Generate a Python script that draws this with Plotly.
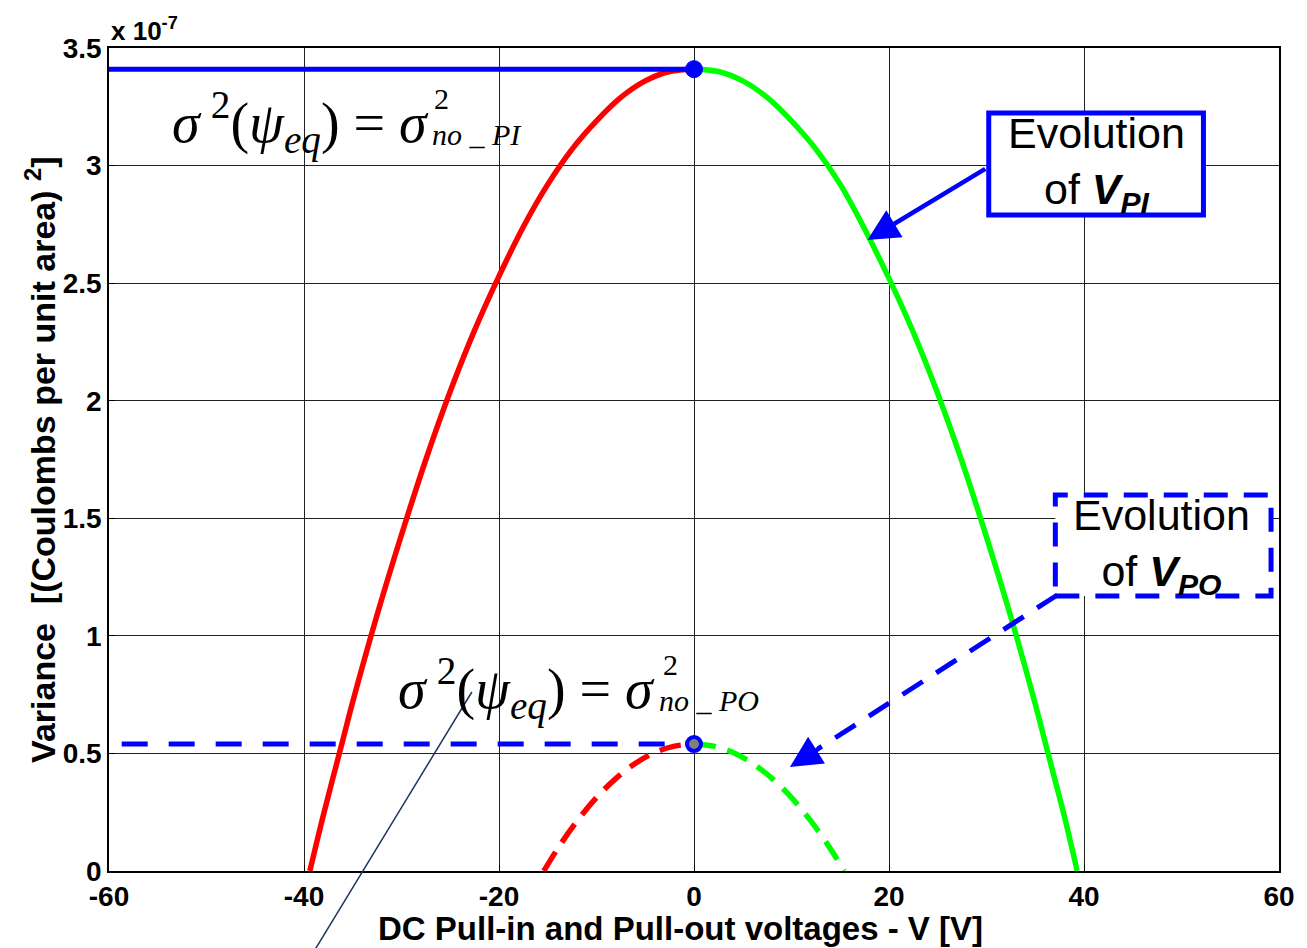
import plotly.graph_objects as go

# Variance values are expressed in units of 1e-7 (Coulombs per unit area)^2
V_PI_LEFT = [-39.4, -38, -36, -35, -32.5, -30, -27.5, -25, -22.5, -20, -17.5, -15,
             -12.5, -10, -7.5, -5, -2.5, 0]
VAR_PI_LEFT = [0, 0.24, 0.56, 0.72, 1.09, 1.43, 1.75, 2.04, 2.30, 2.53, 2.74, 2.92,
               3.07, 3.19, 3.29, 3.36, 3.40, 3.41]
V_PI_RIGHT = [0, 2.5, 5, 7.5, 10, 12.5, 15, 17.5, 20, 22.5, 25, 27.5, 30, 32.5,
              35, 36, 38, 39.3]
VAR_PI_RIGHT = [3.41, 3.40, 3.36, 3.29, 3.19, 3.07, 2.92, 2.73, 2.52, 2.29, 2.03,
                1.74, 1.42, 1.08, 0.71, 0.55, 0.23, 0]

V_PO_LEFT = [-15.4, -14, -12, -10, -8, -6, -4, -2, 0]
VAR_PO_LEFT = [0, 0.094, 0.212, 0.312, 0.394, 0.458, 0.504, 0.531, 0.54]
V_PO_RIGHT = [0, 2, 4, 6, 8, 10, 12, 14, 15.4]
VAR_PO_RIGHT = [0.54, 0.531, 0.504, 0.458, 0.394, 0.312, 0.212, 0.094, 0]

PI_PEAK = (0, 3.41)
PO_PEAK = (0, 0.54)
PO_LINE_START = -58.7

X_TICKS = [-60, -40, -20, 0, 20, 40, 60]
X_TICK_TEXT = ["-60", "-40", "-20", "0", "20", "40", "60"]
Y_TICKS = [0, 0.5, 1, 1.5, 2, 2.5, 3, 3.5]
Y_TICK_TEXT = ["0", "0.5", "1", "1.5", "2", "2.5", "3", "3.5"]

# plot-area geometry (pixels) used to place the call-out decorations
L, R, T, B = 109, 1286, 48, 871
W, H = 1307, 948


def dx(px):
    return -60 + (px - L) / (R - L) * 120


def dy(py):
    return (B - py) / (B - T) * 3.5


def px_paper(px):
    return (px - L) / (R - L)


def py_paper(py):
    return (B - py) / (B - T)


RED, GREEN, BLUE = "#ff0000", "#00ff00", "#0000ff"
SANS = "Liberation Sans, Arial, sans-serif"
SERIF = "Liberation Serif, Times New Roman, serif"

fig = go.Figure()

curve = dict(mode="lines", line_shape="spline", hoverinfo="skip", showlegend=False)
fig.add_trace(go.Scatter(x=V_PI_LEFT, y=VAR_PI_LEFT, line=dict(color=RED, width=5.5), **curve))
fig.add_trace(go.Scatter(x=V_PI_RIGHT, y=VAR_PI_RIGHT, line=dict(color=GREEN, width=5.5), **curve))
fig.add_trace(go.Scatter(x=V_PO_LEFT, y=VAR_PO_LEFT,
                         line=dict(color=RED, width=5.5, dash="22px,12px"), **curve))
fig.add_trace(go.Scatter(x=V_PO_RIGHT, y=VAR_PO_RIGHT,
                         line=dict(color=GREEN, width=5.5, dash="22px,12px"), **curve))

# reference levels at the peaks
fig.add_trace(go.Scatter(x=[-60, PI_PEAK[0]], y=[PI_PEAK[1], PI_PEAK[1]], mode="lines",
                         line=dict(color=BLUE, width=5), hoverinfo="skip", showlegend=False))
fig.add_trace(go.Scatter(x=[PO_LINE_START, PO_PEAK[0]], y=[PO_PEAK[1], PO_PEAK[1]], mode="lines",
                         line=dict(color=BLUE, width=5, dash="26px,21px"),
                         hoverinfo="skip", showlegend=False))

# peak markers
fig.add_trace(go.Scatter(x=[PI_PEAK[0]], y=[PI_PEAK[1]], mode="markers",
                         marker=dict(color=BLUE, size=17, line=dict(color=BLUE, width=1)),
                         hoverinfo="skip", showlegend=False))
fig.add_trace(go.Scatter(x=[PO_PEAK[0]], y=[PO_PEAK[1]], mode="markers",
                         marker=dict(color="#808080", size=14, line=dict(color=BLUE, width=4)),
                         hoverinfo="skip", showlegend=False))

shapes = [
    # solid call-out box for V_PI
    dict(type="rect", xref="x", yref="y", x0=dx(994), x1=dx(1210), y0=dy(215), y1=dy(113),
         line=dict(color=BLUE, width=5), fillcolor="white", layer="above"),
    # dashed call-out box for V_PO
    dict(type="rect", xref="x", yref="y", x0=dx(1061), x1=dx(1278), y0=dy(596), y1=dy(495),
         line=dict(color=BLUE, width=5, dash="24px,16px"), fillcolor="white", layer="above"),
    # dashed pointer shaft for V_PO
    dict(type="line", xref="x", yref="y", x0=dx(1063), y0=dy(595), x1=dx(822), y1=dy(749),
         line=dict(color=BLUE, width=5, dash="24px,16px"), layer="above"),
    # thin leader line
    dict(type="line", xref="paper", yref="paper", x0=px_paper(474), y0=py_paper(692),
         x1=px_paper(316), y1=py_paper(950), line=dict(color="#1f3560", width=1.5),
         layer="above"),
]

MATH_MAIN = "<i>σ</i>\u2009<sup>2</sup>(<i>ψ</i><sub><i>eq</i></sub>) = <i>σ</i>"

annotations = [
    # pointer for V_PI
    dict(x=dx(872), y=dy(240), ax=dx(992), ay=dy(168), xref="x", yref="y", axref="x", ayref="y",
         showarrow=True, arrowhead=2, arrowsize=1.4, arrowwidth=4.5, arrowcolor=BLUE, text=""),
    # arrow head for V_PO
    dict(x=dx(794), y=dy(767), ax=30, ay=-19, xref="x", yref="y",
         showarrow=True, arrowhead=2, arrowsize=1.4, arrowwidth=4.5, arrowcolor=BLUE, text=""),
    dict(x=dx(1102), y=dy(164), xref="x", yref="y", showarrow=False,
         text="Evolution<br>of <b><i>V</i></b><sub><b><i>PI</i></b></sub>",
         font=dict(family=SANS, size=43, color="black"), align="center"),
    dict(x=dx(1168), y=dy(546), xref="x", yref="y", showarrow=False,
         text="Evolution<br>of <b><i>V</i></b><sub><b><i>PO</i></b></sub>",
         font=dict(family=SANS, size=43, color="black"), align="center"),
    # variance equalities
    dict(x=dx(170), y=dy(122), xref="x", yref="y", xanchor="left", yanchor="middle",
         showarrow=False, text=MATH_MAIN, font=dict(family=SERIF, size=56, color="black")),
    dict(x=dx(434), y=dy(98), xref="x", yref="y", xanchor="left", yanchor="middle",
         showarrow=False, text="2", font=dict(family=SERIF, size=30, color="black")),
    dict(x=dx(432), y=dy(134), xref="x", yref="y", xanchor="left", yanchor="middle",
         showarrow=False, text="<i>no _ PI</i>", font=dict(family=SERIF, size=30, color="black")),
    dict(x=dx(398), y=dy(688), xref="x", yref="y", xanchor="left", yanchor="middle",
         showarrow=False, text=MATH_MAIN, font=dict(family=SERIF, size=56, color="black")),
    dict(x=dx(664), y=dy(664), xref="x", yref="y", xanchor="left", yanchor="middle",
         showarrow=False, text="2", font=dict(family=SERIF, size=30, color="black")),
    dict(x=dx(660), y=dy(700), xref="x", yref="y", xanchor="left", yanchor="middle",
         showarrow=False, text="<i>no _ PO</i>", font=dict(family=SERIF, size=30, color="black")),
    # axis titles and exponent
    dict(x=px_paper(40), y=0.5, xref="paper", yref="paper", xanchor="center", yanchor="middle",
         showarrow=False, textangle=-90,
         text="<b>Variance  [(Coulombs per unit area) <sup>2</sup>]</b>",
         font=dict(family=SANS, size=34, color="black")),
    dict(x=px_paper(684), y=py_paper(928), xref="paper", yref="paper", xanchor="center",
         yanchor="middle", showarrow=False,
         text="<b>DC Pull-in and Pull-out voltages - V [V]</b>",
         font=dict(family=SANS, size=33, color="black")),
    dict(x=0, y=1, xref="paper", yref="paper", xanchor="left", yanchor="bottom", showarrow=False,
         text="<b>x 10<sup>-7</sup></b>", font=dict(family=SANS, size=26, color="black")),
]

axis_common = dict(showline=True, linecolor="black", linewidth=1.5, mirror=True,
                   showgrid=True, gridcolor="#222222", gridwidth=1, zeroline=False,
                   ticks="inside", ticklen=6, tickcolor="black",
                   tickfont=dict(family=SANS, size=28, color="black"))

fig.update_layout(
    width=W, height=H,
    margin=dict(l=L, r=W - R, t=T, b=H - B),
    paper_bgcolor="white", plot_bgcolor="white",
    xaxis=dict(range=[-60, 60], tickvals=X_TICKS, ticktext=[f"<b>{t}</b>" for t in X_TICK_TEXT],
               **axis_common),
    yaxis=dict(range=[0, 3.5], tickvals=Y_TICKS, ticktext=[f"<b>{t}</b>" for t in Y_TICK_TEXT],
               **axis_common),
    shapes=shapes, annotations=annotations, showlegend=False,
)

fig.write_html("out.html")
